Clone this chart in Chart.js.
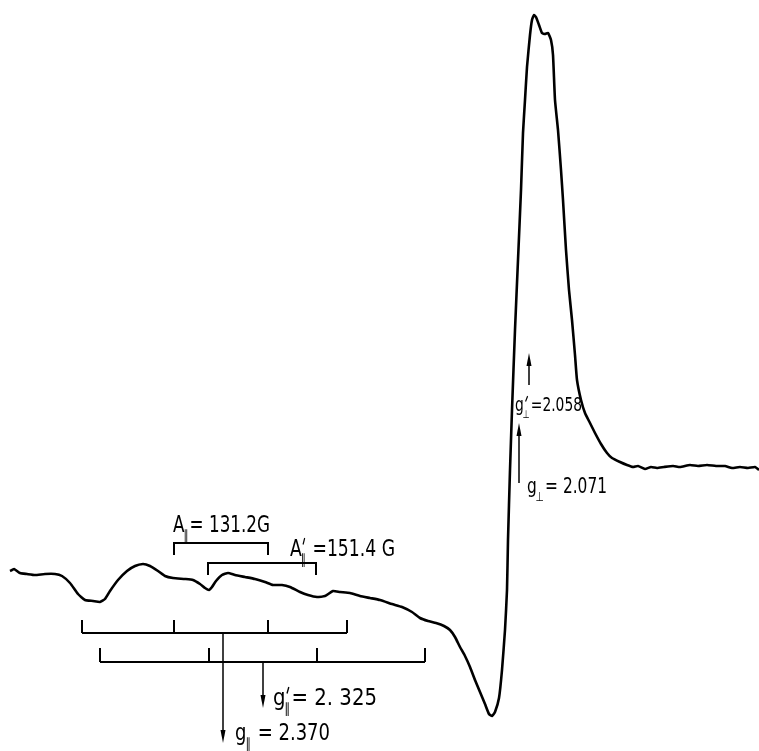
<!DOCTYPE html>
<html><head><meta charset="utf-8">
<script src="https://cdn.jsdelivr.net/npm/chart.js@4"></script>
<style>html,body{margin:0;padding:0;background:#fff}#wrap{width:759px;height:751px}</style>
</head><body><div id="wrap"><canvas id="c" width="759" height="751"></canvas></div>
<script>
// Magnetic field position (arbitrary units, increasing to the right)
const fieldPos = [10,14,20,27,35,45,55,62,70,78,85,93,100,105,110,118,127,135,143,150,158,165,173,185,193,200,205,209,212,216,222,228,235,245,255,265,273,282,290,300,308,317,325,333,340,350,360,370,380,392,402,412,420,428,436,444,450,455,460,465,470,475,480,485,489,492,495,499,502,505,507,508,510,512,515,518,521,523,525,527,530,532,534,536,539,542,545,548,551,553,555,558,561,563,566,569,572,575,577,581,585,590,595,601,607,612,620,627,633,638,645,651,657,664,673,680,690,698,707,716,725,732,740,748,755,759];
// First-derivative EPR signal (arbitrary units)
const signal = [180,182,178,177,176,177,177,175,168,157,151,150,149,152,160,171,180,185,187,185,180,175,173,172,171,167,163,161,164,170,176,178,176,174,172,169,166,166,164,159,156,154,155,160,159,158,155,153,151,147,144,139,133,130,128,125,121,114,104,95,84,71,59,47,37,35,39,53,81,121,161,211,281,341,421,491,561,618,651,684,716,731,736,734,726,718,717,718,711,696,651,621,581,551,501,461,431,396,371,351,338,328,318,307,298,293,289,286,284,285,282,284,283,284,285,284,286,285,286,285,285,283,284,283,284,281];

// Hyperfine combs: line positions (field units)
const combParallel = [82,174,268,347];
const combParallelPrime = [100,209,317,425];
// Labels: main symbol, subscript, remainder
const labelA = ['A','\u2225','= 131.2G'];
const labelA2 = ['A','\u2225',' =151.4 G'];
const labelGpar = ['g','\u2225',' = 2.370'];
const labelGpar2 = ['g','\u2225','= 2. 325'];
const labelGperp = ['g','\u22A5','= 2.071'];
const labelGperp2 = ['g','\u22A5','=2.058'];

const FONT = '"DejaVu Sans Condensed","Liberation Sans Narrow","DejaVu Sans",sans-serif';

function drawLabel(ctx, x, y, parts, size, prime, targetW){
  ctx.save();
  ctx.fillStyle = '#000'; ctx.strokeStyle = '#000';
  ctx.textBaseline = 'alphabetic';
  ctx.textAlign = 'left';
  const small = Math.round(size*0.6);
  ctx.font = size + 'px ' + FONT;
  const w0 = ctx.measureText(parts[0]).width, w2 = ctx.measureText(parts[2]).width;
  ctx.font = small + 'px ' + FONT;
  const sw = ctx.measureText(parts[1]).width;
  const total = w0 + sw + w2;
  const sx = targetW / total;
  ctx.translate(x, y);
  ctx.scale(sx, 1);
  ctx.font = size + 'px ' + FONT;
  ctx.fillText(parts[0], 0, 0);
  ctx.font = small + 'px ' + FONT;
  ctx.fillText(parts[1], w0 - 1.5, size*0.36);
  if (prime){
    ctx.lineWidth = 1.4;
    ctx.beginPath();
    ctx.moveTo(w0 + sw*0.55, -size*0.78);
    ctx.lineTo(w0 + sw*0.25, -size*0.5);
    ctx.stroke();
  }
  ctx.font = size + 'px ' + FONT;
  ctx.fillText(parts[2], w0 + sw, 0);
  ctx.restore();
}

const annot = {
  id: 'annot',
  afterDatasetsDraw(chart){
    const ctx = chart.ctx, xs = chart.scales.x, ys = chart.scales.y;
    const X = v => xs.getPixelForValue(v), Y = v => ys.getPixelForValue(v);
    ctx.save();
    ctx.strokeStyle = '#000'; ctx.fillStyle = '#000';
    ctx.lineWidth = 2; ctx.lineCap = 'butt';
    function bracket(x1,x2,yt,yb){
      ctx.beginPath();
      ctx.moveTo(X(x1),Y(yb)); ctx.lineTo(X(x1),Y(yt)); ctx.lineTo(X(x2),Y(yt)); ctx.lineTo(X(x2),Y(yb));
      ctx.stroke();
    }
    function comb(ticks, yl, yt){
      ctx.beginPath();
      ctx.moveTo(X(ticks[0]),Y(yl)); ctx.lineTo(X(ticks[ticks.length-1]),Y(yl));
      ticks.forEach(t=>{ctx.moveTo(X(t),Y(yl)); ctx.lineTo(X(t),Y(yt));});
      ctx.stroke();
    }
    function arrow(x, yFrom, yTo){
      const px = X(x), p1 = Y(yFrom), p2 = Y(yTo);
      const dir = p2 > p1 ? 1 : -1;
      ctx.save(); ctx.lineWidth = 1.5;
      ctx.beginPath(); ctx.moveTo(px,p1); ctx.lineTo(px,p2 - dir*10); ctx.stroke();
      ctx.beginPath(); ctx.moveTo(px,p2); ctx.lineTo(px-2.5,p2-dir*13); ctx.lineTo(px+2.5,p2-dir*13); ctx.closePath(); ctx.fill();
      ctx.restore();
    }
    bracket(174,268,208,196);
    bracket(208,316,188,176);
    comb(combParallel,118,131);
    comb(combParallelPrime,89,103);
    arrow(223,118,8);
    arrow(263,89,43);
    arrow(529,366,398);
    arrow(519,268,328);
    drawLabel(ctx,X(173),Y(219),labelA,23,false,97);
    drawLabel(ctx,X(290),Y(195),labelA2,23,true,105);
    drawLabel(ctx,X(273),Y(46),labelGpar2,23,true,104);
    drawLabel(ctx,X(235),Y(11),labelGpar,23,false,95);
    drawLabel(ctx,X(515),Y(340),labelGperp2,19,true,67);
    drawLabel(ctx,X(527),Y(258),labelGperp,21,false,80);
    ctx.restore();
  }
};

new Chart(document.getElementById('c'), {
  type: 'line',
  data: {
    datasets: [{
      data: fieldPos.map((f,i)=>({x:f, y:signal[i]})),
      borderColor: '#000', borderWidth: 2.6, pointRadius: 0, tension: 0.15, fill: false
    }]
  },
  options: {
    responsive: false, animation: false, devicePixelRatio: 1,
    layout: { padding: 0 },
    plugins: { legend: {display:false}, tooltip: {enabled:false} },
    scales: {
      x: { type:'linear', min:0, max:759, display:false },
      y: { type:'linear', min:0, max:751, display:false }
    }
  },
  plugins: [annot]
});
</script>
</body></html>
